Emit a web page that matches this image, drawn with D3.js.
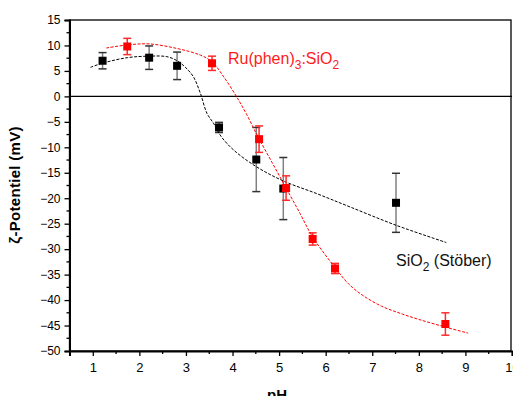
<!DOCTYPE html>
<html>
<head>
<meta charset="utf-8">
<script src="https://cdn.jsdelivr.net/npm/d3@7"></script>
<style>
body { margin: 0; background: #fff; }
text { font-family: Arial, "Liberation Sans", sans-serif; }
</style>
</head>
<body>
<div id="chart"></div>
<script>
// SiO2 (Stöber) measurements
var phSilica = [1.21, 2.21, 2.81, 3.71, 4.51, 5.09, 7.51];
var zetaSilica = [7.0, 7.6, 6.0, -6.1, -12.4, -18.1, -20.9];
var errSilica = [1.6, 2.3, 2.7, 1.0, 6.3, 6.1, 5.8];

// Ru(phen)3:SiO2 measurements
var phRu = [1.74, 3.56, 4.57, 5.15, 5.72, 6.2, 8.57];
var zetaRu = [9.8, 6.5, -8.4, -18.0, -28.0, -33.8, -44.7];
var errRu = [1.6, 1.4, 2.6, 2.4, 1.2, 1.0, 2.2];

// fitted curves
var fitSilicaPh = [0.95, 1.2, 1.74, 2.21, 2.59, 2.81, 3.0, 3.16, 3.31, 3.45, 3.6, 3.75, 4.02, 4.51, 5.09, 5.81, 6.52, 7.51, 8.59];
var fitSilicaZeta = [5.7, 6.5, 7.6, 7.9, 7.8, 7.0, 5.6, 3.85, 0.6, -3.3, -5.4, -7.8, -10.5, -13.8, -16.6, -19.1, -21.7, -25.3, -28.7];
var fitRuPh = [1.29, 1.74, 2.21, 2.81, 3.31, 3.56, 3.81, 4.09, 4.3, 4.55, 4.85, 5.15, 5.45, 5.72, 6.2, 6.5, 6.8, 7.2, 7.6, 8.0, 8.57, 9.06];
var fitRuZeta = [9.5, 10.1, 10.3, 9.4, 8.1, 6.8, 3.85, -0.1, -3.5, -8.0, -13.0, -18.0, -23.0, -27.6, -33.6, -36.9, -39.1, -41.2, -42.6, -43.8, -45.3, -46.5];

var xTicks = [1, 2, 3, 4, 5, 6, 7, 8, 9, 10];
var yTicks = [15, 10, 5, 0, -5, -10, -15, -20, -25, -30, -35, -40, -45, -50];

var W = 513, H = 396;
var margin = { left: 69.5, right: 512, top: 20, bottom: 351 };

var svg = d3.select("#chart").append("svg")
    .attr("width", W)
    .attr("height", H);

var x = d3.scaleLinear().domain([0.5, 10]).range([margin.left, margin.right]);
var y = d3.scaleLinear().domain([-50, 15]).range([margin.bottom, margin.top]);

// frame
svg.append("rect")
    .attr("x", margin.left).attr("y", margin.top)
    .attr("width", x(10) - margin.left - 1).attr("height", margin.bottom - margin.top)
    .attr("fill", "none").attr("stroke", "#000").attr("stroke-width", 1.3);

// minor ticks
var yMinor = d3.range(-47.5, 15, 5);
svg.append("g").selectAll("line").data(yMinor).enter().append("line")
    .attr("x1", margin.left - 3).attr("x2", margin.left)
    .attr("y1", d => y(d)).attr("y2", d => y(d))
    .attr("stroke", "#000").attr("stroke-width", 1.3);
var xMinor = d3.range(1.5, 10, 1);
svg.append("g").selectAll("line").data(xMinor).enter().append("line")
    .attr("x1", d => x(d)).attr("x2", d => x(d))
    .attr("y1", margin.bottom).attr("y2", margin.bottom + 3)
    .attr("stroke", "#000").attr("stroke-width", 1.3);

// Y axis
var yAxis = svg.append("g")
    .attr("transform", "translate(" + margin.left + ",0)")
    .call(d3.axisLeft(y).tickValues(yTicks).tickSize(5).tickPadding(4).tickFormat(d3.format("d")));
yAxis.select(".domain").attr("stroke-width", 2);
yAxis.selectAll(".tick line").attr("stroke-width", 1.3);
yAxis.selectAll(".tick text").style("font-size", "12px").attr("fill", "#000")
    .style("font-family", "Arial, 'Liberation Sans', sans-serif");

// X axis
var xAxis = svg.append("g")
    .attr("transform", "translate(0," + margin.bottom + ")")
    .call(d3.axisBottom(x).tickValues(xTicks).tickSize(5).tickPadding(7).tickFormat(d3.format("d")));
xAxis.select(".domain").attr("stroke-width", 2);
xAxis.selectAll(".tick line").attr("stroke-width", 1.3);
xAxis.selectAll(".tick text").style("font-size", "13px").attr("fill", "#000")
    .style("font-family", "Arial, 'Liberation Sans', sans-serif");

// zero line
svg.append("line")
    .attr("x1", margin.left).attr("x2", margin.right)
    .attr("y1", y(0)).attr("y2", y(0))
    .attr("stroke", "#000").attr("stroke-width", 1.3);

// axis titles
svg.append("text")
    .attr("transform", "translate(20," + 185 + ") rotate(-90)")
    .attr("text-anchor", "middle")
    .style("font-size", "15px")
    .style("font-weight", "bold")
    .style("letter-spacing", "0.3px")
    .text("ζ-Potentiel (mV)");

svg.append("text")
    .attr("x", 277).attr("y", 400)
    .attr("text-anchor", "middle")
    .style("font-size", "15px")
    .style("font-weight", "bold")
    .text("pH");

var line = d3.line()
    .x(d => x(d[0]))
    .y(d => y(d[1]))
    .curve(d3.curveCatmullRom.alpha(0.5));

function drawSeries(ph, zeta, err, fitPh, fitZeta, color, barColor, capColor) {
    var pts = ph.map((p, i) => ({ p: p, z: zeta[i], e: err[i] }));
    var g = svg.append("g");

    g.selectAll(".bar").data(pts).enter().append("line")
        .attr("x1", d => x(d.p)).attr("x2", d => x(d.p))
        .attr("y1", d => y(d.z + d.e)).attr("y2", d => y(d.z - d.e))
        .attr("stroke", barColor).attr("stroke-width", 1.5);
    [1, -1].forEach(function (s) {
        g.selectAll(".cap").data(pts).enter().append("line")
            .attr("x1", d => x(d.p) - 4).attr("x2", d => x(d.p) + 4)
            .attr("y1", d => y(d.z + s * d.e)).attr("y2", d => y(d.z + s * d.e))
            .attr("stroke", capColor).attr("stroke-width", 1.5);
    });

    g.append("path")
        .datum(fitPh.map((p, i) => [p, fitZeta[i]]))
        .attr("d", line)
        .attr("fill", "none")
        .attr("stroke", color)
        .attr("stroke-width", 1)
        .attr("stroke-dasharray", "3,1.5");

    g.selectAll("rect").data(pts).enter().append("rect")
        .attr("x", d => x(d.p) - 4).attr("y", d => y(d.z) - 4)
        .attr("width", 8).attr("height", 8)
        .attr("fill", color);
}

drawSeries(phSilica, zetaSilica, errSilica, fitSilicaPh, fitSilicaZeta, "#000", "#808080", "#333");
drawSeries(phRu, zetaRu, errRu, fitRuPh, fitRuZeta, "#ff0000", "#ff2a2a", "#ff2a2a");

// labels
var ruLabel = svg.append("text")
    .attr("x", 228).attr("y", 64)
    .attr("fill", "#ff1a1a")
    .style("font-size", "16px");
ruLabel.append("tspan").text("Ru(phen)");
ruLabel.append("tspan").attr("dy", 5).style("font-size", "12px").text("3");
ruLabel.append("tspan").attr("dy", -5).text(":SiO");
ruLabel.append("tspan").attr("dy", 5).style("font-size", "12px").text("2");

var siLabel = svg.append("text")
    .attr("x", 396).attr("y", 266)
    .attr("fill", "#111")
    .style("font-size", "16px");
siLabel.append("tspan").text("SiO");
siLabel.append("tspan").attr("dy", 5).style("font-size", "12px").text("2");
siLabel.append("tspan").attr("dy", -5).text(" (Stöber)");
</script>
</body>
</html>
